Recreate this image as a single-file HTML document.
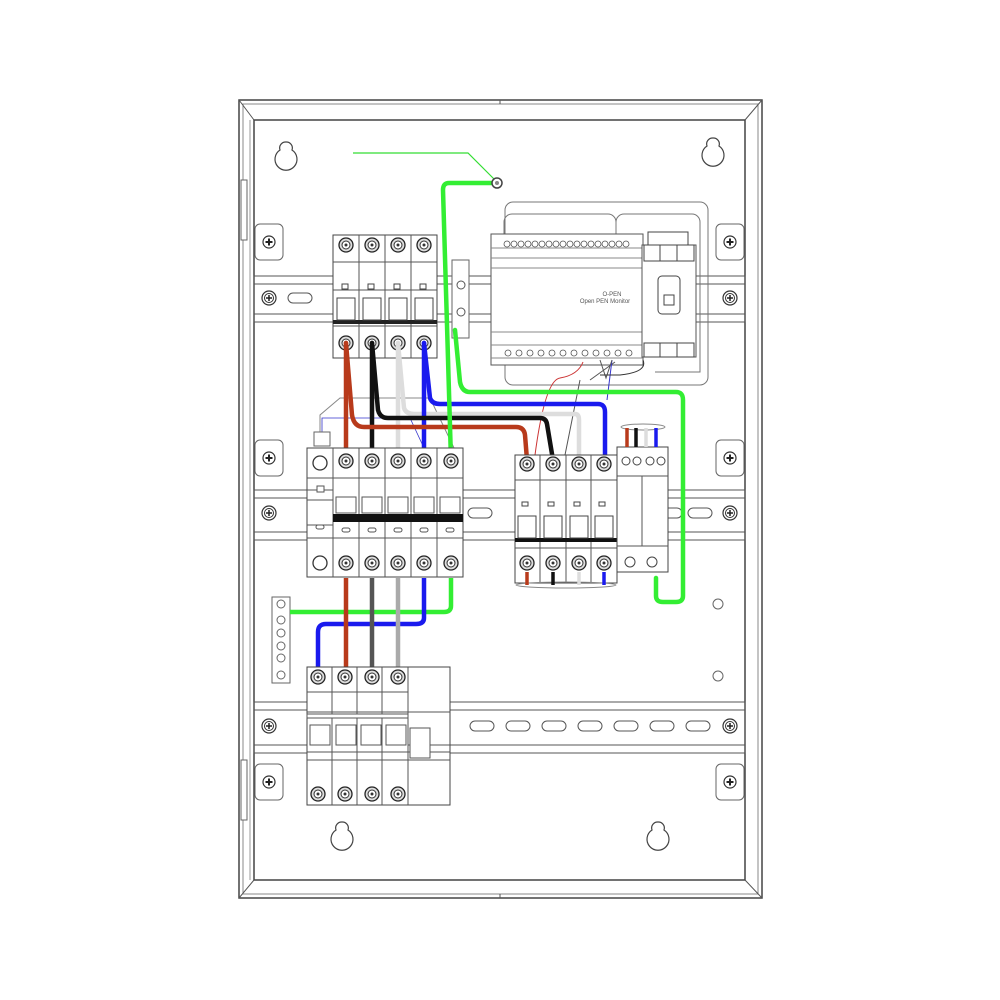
<!DOCTYPE html>
<html><head><meta charset="utf-8"><style>html,body{margin:0;padding:0;background:#fff}svg{display:block}</style></head>
<body>
<svg width="1000" height="1000" viewBox="0 0 1000 1000" xmlns="http://www.w3.org/2000/svg" font-family="Liberation Sans, sans-serif">
<defs>
<g id="scr"><circle r="7" fill="#fff" stroke="#333" stroke-width="1.2"/><circle r="4.5" fill="#fff" stroke="#333"/><path d="M-3 0H3M0 -3V3" stroke="#222" stroke-width="1.5"/></g>
<g id="term"><circle r="7" fill="#ddd" stroke="#222" stroke-width="1.3"/><circle r="4" fill="#fff" stroke="#333"/><circle r="1.5" fill="#333"/></g>
<g id="mount"><rect x="-14" y="-18" width="28" height="36" rx="5" fill="#fff" stroke="#666"/><circle r="6" fill="#fff" stroke="#333" stroke-width="1.2"/><path d="M-3.5 0H3.5M0 -3.5V3.5" stroke="#222" stroke-width="2"/></g>
<g id="key"><path d="M0 -12a6 6 0 0 1 6 8a11 11 0 1 1 -12 0a6 6 0 0 1 6 -8z" fill="#fff" stroke="#444" stroke-width="1.2"/></g>
<g id="slot"><rect x="-12" y="-5" width="24" height="10" rx="5" fill="#fff" stroke="#555"/></g>
</defs>
<rect width="1000" height="1000" fill="#fff"/>
<!-- enclosure -->
<rect x="239" y="100" width="523" height="798" fill="#fff" stroke="#444" stroke-width="1.5"/>
<rect x="243" y="104" width="515" height="790" fill="none" stroke="#888"/>
<path d="M254 120H745V880H254Z" fill="none" stroke="#444" stroke-width="1.5"/>
<path d="M239 100L254 120M762 100L745 120M239 898L254 880M762 898L745 880" stroke="#555"/>
<path d="M250 120V880" stroke="#999"/>
<rect x="241" y="180" width="6" height="60" fill="#fff" stroke="#666"/>
<rect x="241" y="760" width="6" height="60" fill="#fff" stroke="#666"/>
<path d="M500 100V104M500 894V898" stroke="#555"/>
<!-- rails -->
<g fill="none" stroke="#555">
<rect x="254" y="276" width="491" height="46"/><path d="M254 284H745M254 314H745"/>
<rect x="254" y="490" width="491" height="50"/><path d="M254 498H745M254 532H745"/>
<rect x="254" y="702" width="491" height="51"/><path d="M254 710H745M254 745H745"/>
</g>
<g>
<use href="#slot" x="300" y="298"/><use href="#slot" x="480" y="513"/><use href="#slot" x="700" y="513"/><use href="#slot" x="670" y="513"/>
<use href="#slot" x="482" y="726"/><use href="#slot" x="518" y="726"/><use href="#slot" x="554" y="726"/><use href="#slot" x="590" y="726"/><use href="#slot" x="626" y="726"/><use href="#slot" x="662" y="726"/><use href="#slot" x="698" y="726"/>
</g>
<!-- mounts -->
<use href="#mount" x="269" y="242"/><use href="#mount" x="730" y="242"/>
<use href="#mount" x="269" y="458"/><use href="#mount" x="730" y="458"/>
<use href="#mount" x="269" y="782"/><use href="#mount" x="730" y="782"/>
<use href="#scr" x="269" y="298"/><use href="#scr" x="730" y="298"/>
<use href="#scr" x="269" y="513"/><use href="#scr" x="730" y="513"/>
<use href="#scr" x="269" y="726"/><use href="#scr" x="730" y="726"/>
<use href="#key" x="286" y="154"/><use href="#key" x="713" y="150"/>
<use href="#key" x="342" y="834"/><use href="#key" x="658" y="834"/>
<circle cx="718" cy="604" r="5" fill="#fff" stroke="#666"/><circle cx="718" cy="676" r="5" fill="#fff" stroke="#666"/>

<!-- PLC outer frame -->
<g fill="none" stroke="#777">
<rect x="505" y="202" width="203" height="183" rx="8"/>
<path d="M504 235V222a8 8 0 0 1 8-8H608a8 8 0 0 1 8 8V235"/>
<path d="M616 235V222a8 8 0 0 1 8-8H692a8 8 0 0 1 8 8V372H655"/>
</g>
<rect x="491" y="234" width="152" height="131" fill="#fff" stroke="#555"/>
<path d="M491 248H643M491 258H643M491 268H643M491 332H643M491 345H643M491 358H643" stroke="#888" fill="none"/>
<g fill="#fff" stroke="#555" stroke-width="0.8">
<circle cx="507" cy="244" r="3"/><circle cx="514" cy="244" r="3"/><circle cx="521" cy="244" r="3"/><circle cx="528" cy="244" r="3"/><circle cx="535" cy="244" r="3"/><circle cx="542" cy="244" r="3"/><circle cx="549" cy="244" r="3"/><circle cx="556" cy="244" r="3"/><circle cx="563" cy="244" r="3"/><circle cx="570" cy="244" r="3"/><circle cx="577" cy="244" r="3"/><circle cx="584" cy="244" r="3"/><circle cx="591" cy="244" r="3"/><circle cx="598" cy="244" r="3"/><circle cx="605" cy="244" r="3"/><circle cx="612" cy="244" r="3"/><circle cx="619" cy="244" r="3"/><circle cx="626" cy="244" r="3"/>
<circle cx="508" cy="353" r="3"/><circle cx="519" cy="353" r="3"/><circle cx="530" cy="353" r="3"/><circle cx="541" cy="353" r="3"/><circle cx="552" cy="353" r="3"/><circle cx="563" cy="353" r="3"/><circle cx="574" cy="353" r="3"/><circle cx="585" cy="353" r="3"/><circle cx="596" cy="353" r="3"/><circle cx="607" cy="353" r="3"/><circle cx="618" cy="353" r="3"/><circle cx="629" cy="353" r="3"/>
</g>
<text x="612" y="296" font-size="6" fill="#555" text-anchor="middle">O-PEN</text>
<text x="605" y="303" font-size="6" fill="#555" text-anchor="middle">Open PEN Monitor</text>
<!-- contactor -->
<rect x="642" y="245" width="54" height="112" fill="#fff" stroke="#555"/>
<path d="M648 245V232H688V245" fill="none" stroke="#444"/>
<rect x="644" y="245" width="50" height="16" fill="#fff" stroke="#444"/><path d="M660 245V261M677 245V261" stroke="#444"/>
<rect x="644" y="343" width="50" height="14" fill="#fff" stroke="#444"/><path d="M660 343V357M677 343V357" stroke="#444"/>
<rect x="658" y="276" width="22" height="38" rx="4" fill="#fff" stroke="#444"/><rect x="664" y="295" width="10" height="10" fill="#fff" stroke="#444"/>
<!-- DIN terminal small -->
<rect x="452" y="260" width="17" height="78" fill="#fff" stroke="#666"/>
<circle cx="461" cy="285" r="4" fill="#fff" stroke="#555"/><circle cx="461" cy="312" r="4" fill="#fff" stroke="#555"/>

<!-- breaker 1 top -->
<rect x="333" y="235" width="104" height="123" fill="#fff" stroke="#444"/>
<path d="M359 235V358M385 235V358M411 235V358M333 262H437M333 326H437M333 290H437" stroke="#555" fill="none"/>
<rect x="333" y="320" width="104" height="4" fill="#222"/>
<g fill="#fff" stroke="#444"><rect x="342" y="284" width="6" height="5"/><rect x="368" y="284" width="6" height="5"/><rect x="394" y="284" width="6" height="5"/><rect x="420" y="284" width="6" height="5"/>
<rect x="337" y="298" width="18" height="22"/><rect x="363" y="298" width="18" height="22"/><rect x="389" y="298" width="18" height="22"/><rect x="415" y="298" width="18" height="22"/></g>
<use href="#term" x="346" y="245"/><use href="#term" x="372" y="245"/><use href="#term" x="398" y="245"/><use href="#term" x="424" y="245"/>
<use href="#term" x="346" y="343"/><use href="#term" x="372" y="343"/><use href="#term" x="398" y="343"/><use href="#term" x="424" y="343"/>

<!-- thin wires -->
<path d="M590 380L615 362M580 380L565 455" stroke="#555" fill="none"/>
<path d="M583 362Q578 375 560 378Q545 380 535 455" stroke="#c33" fill="none"/>
<path d="M612 360L607 400" stroke="#33c" fill="none"/>
<path d="M600 360L606 378L612 360" stroke="#555" fill="none"/>
<path d="M643 360Q648 372 620 375H600" stroke="#333" fill="none"/>
<path d="M320 442V415L340 398H430L455 450" stroke="#888" fill="none"/>
<path d="M322 438V418H410L424 448" stroke="#33c" fill="none" stroke-width="0.8"/>
<rect x="314" y="432" width="16" height="14" fill="#fff" stroke="#666"/>

<!-- thick wires upper -->
<g fill="none" stroke-width="4.5" stroke-linejoin="round" stroke-linecap="round">
<path d="M398 343L404 408Q406 414 414 414H575Q579 414 579 420V460" stroke="#ddd"/>
<path d="M398 343V460" stroke="#ddd"/>
<path d="M424 343L430 398Q432 404 440 404H598Q605 404 605 412V460" stroke="#1a1aee"/>
<path d="M424 343V460" stroke="#1a1aee"/>
<path d="M372 343L378 410Q380 418 388 418H540Q546 418 547 424L553 460" stroke="#111"/>
<path d="M372 343V460" stroke="#111"/>
<path d="M346 343L352 415Q354 427 364 427H516Q524 427 525 435L527 460" stroke="#b83a1b"/>
<path d="M346 343V460" stroke="#b83a1b"/>
<path d="M497 183H449Q443 183 443 190L451 460" stroke="#33ee33"/>
<path d="M455 330L460 382Q462 392 470 392H676Q683 392 683 400V596Q683 602 676 602H663Q656 602 656 596V578" stroke="#33ee33"/>
</g>
<path d="M353 153H468L495 180" stroke="#33dd33" fill="none" stroke-width="1.2"/>
<circle cx="497" cy="183" r="5" fill="#fff" stroke="#444" stroke-width="1.5"/><circle cx="497" cy="183" r="2" fill="#888"/>

<!-- breaker 2 -->
<rect x="307" y="448" width="156" height="129" fill="#fff" stroke="#444"/>
<path d="M333 448V577M359 448V577M385 448V577M411 448V577M437 448V577M307 478H463M307 490H333M307 538H463M307 500H333M307 525H333" stroke="#555" fill="none"/>
<rect x="333" y="514" width="130" height="8" fill="#111"/>
<g fill="#fff" stroke="#555"><rect x="336" y="497" width="20" height="16"/><rect x="362" y="497" width="20" height="16"/><rect x="388" y="497" width="20" height="16"/><rect x="414" y="497" width="20" height="16"/><rect x="440" y="497" width="20" height="16"/>
<rect x="316" y="525" width="8" height="4" rx="2"/><rect x="342" y="528" width="8" height="4" rx="2"/><rect x="368" y="528" width="8" height="4" rx="2"/><rect x="394" y="528" width="8" height="4" rx="2"/><rect x="420" y="528" width="8" height="4" rx="2"/><rect x="446" y="528" width="8" height="4" rx="2"/>
<rect x="317" y="486" width="7" height="6"/></g>
<circle cx="320" cy="463" r="7" fill="#fff" stroke="#333" stroke-width="1.3"/><circle cx="320" cy="563" r="7" fill="#fff" stroke="#333" stroke-width="1.3"/>
<use href="#term" x="346" y="461"/><use href="#term" x="372" y="461"/><use href="#term" x="398" y="461"/><use href="#term" x="424" y="461"/><use href="#term" x="451" y="461"/>
<use href="#term" x="346" y="563"/><use href="#term" x="372" y="563"/><use href="#term" x="398" y="563"/><use href="#term" x="424" y="563"/><use href="#term" x="451" y="563"/>

<!-- breaker 3 + spd -->
<rect x="515" y="455" width="102" height="128" fill="#fff" stroke="#444"/>
<path d="M540 455V583M566 455V583M591 455V583M515 480H617M515 548H617" stroke="#555" fill="none"/>
<rect x="515" y="538" width="102" height="4" fill="#111"/>
<g fill="#fff" stroke="#444"><rect x="522" y="502" width="6" height="4"/><rect x="548" y="502" width="6" height="4"/><rect x="574" y="502" width="6" height="4"/><rect x="599" y="502" width="6" height="4"/>
<rect x="518" y="516" width="18" height="22"/><rect x="544" y="516" width="18" height="22"/><rect x="570" y="516" width="18" height="22"/><rect x="595" y="516" width="18" height="22"/></g>
<use href="#term" x="527" y="464"/><use href="#term" x="553" y="464"/><use href="#term" x="579" y="464"/><use href="#term" x="604" y="464"/>
<use href="#term" x="527" y="563"/><use href="#term" x="553" y="563"/><use href="#term" x="579" y="563"/><use href="#term" x="604" y="563"/>
<ellipse cx="566" cy="585" rx="50" ry="3" fill="none" stroke="#888"/>
<rect x="617" y="447" width="51" height="125" fill="#fff" stroke="#444"/>
<path d="M617 476H668M642 476V546M617 546H668" stroke="#555" fill="none"/>
<g fill="#fff" stroke="#444"><circle cx="626" cy="461" r="4"/><circle cx="637" cy="461" r="4"/><circle cx="650" cy="461" r="4"/><circle cx="661" cy="461" r="4"/><circle cx="630" cy="562" r="5"/><circle cx="652" cy="562" r="5"/></g>
<ellipse cx="643" cy="427" rx="22" ry="3" fill="#fff" stroke="#888"/>
<g stroke-width="3.5"><path d="M627 428V447" stroke="#b83a1b"/><path d="M636 428V447" stroke="#111"/><path d="M646 428V447" stroke="#ddd"/><path d="M656 428V447" stroke="#1a1aee"/>
<path d="M527 572V585" stroke="#b83a1b"/><path d="M553 572V585" stroke="#111"/><path d="M579 572V585" stroke="#ddd"/><path d="M604 572V585" stroke="#1a1aee"/></g>

<!-- terminal bar -->
<rect x="272" y="597" width="18" height="86" fill="#fff" stroke="#666"/>
<g fill="#fff" stroke="#666"><circle cx="281" cy="604" r="4"/><circle cx="281" cy="620" r="4"/><circle cx="281" cy="633" r="4"/><circle cx="281" cy="646" r="4"/><circle cx="281" cy="658" r="4"/><circle cx="281" cy="675" r="4"/></g>

<!-- lower wires -->
<g fill="none" stroke-width="4.5" stroke-linejoin="round">
<path d="M451 578V606Q451 612 444 612H290" stroke="#33ee33"/>
<path d="M424 578V618Q424 624 416 624H326Q318 624 318 632V672" stroke="#1a1aee"/>
<path d="M346 578V672" stroke="#b83a1b"/>
<path d="M372 578V672" stroke="#555"/>
<path d="M398 578V672" stroke="#aaa"/>
</g>

<!-- breaker 4 RCBO -->
<rect x="307" y="667" width="143" height="138" fill="#fff" stroke="#444"/>
<path d="M332 667V805M357 667V805M382 667V805M408 667V805M307 692H408M307 712H450M307 752H450M307 760H450M408 745H450" stroke="#555" fill="none"/>
<rect x="307" y="714" width="101" height="4" fill="#fff" stroke="#555"/>
<g fill="#fff" stroke="#555"><rect x="310" y="725" width="20" height="20"/><rect x="336" y="725" width="20" height="20"/><rect x="361" y="725" width="20" height="20"/><rect x="386" y="725" width="20" height="20"/><rect x="410" y="728" width="20" height="30"/></g>
<use href="#term" x="318" y="677"/><use href="#term" x="345" y="677"/><use href="#term" x="372" y="677"/><use href="#term" x="398" y="677"/>
<use href="#term" x="318" y="794"/><use href="#term" x="345" y="794"/><use href="#term" x="372" y="794"/><use href="#term" x="398" y="794"/>
</svg>
</body></html>
